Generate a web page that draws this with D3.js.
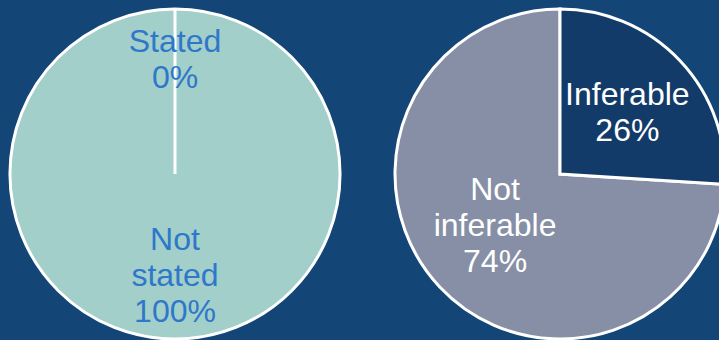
<!DOCTYPE html>
<html><head><meta charset="utf-8">
<script src="https://cdn.jsdelivr.net/npm/d3@7"></script>
<style>html,body{margin:0;padding:0;background:#134577;overflow:hidden}</style>
</head><body>
<svg id="c" width="719" height="340"></svg>
<script>
// Data
const leftCategories = ["Stated", "Not stated"];
const leftValues = [0, 100];
const leftLabels = [["Stated", "0%"], ["Not", "stated", "100%"]];
const rightCategories = ["Inferable", "Not inferable"];
const rightValues = [26, 74];
const rightLabels = [["Inferable", "26%"], ["Not", "inferable", "74%"]];

const svg = d3.select("#c");
const R = 165;
const lineH = 36;

const charts = [
  {cx: 175, cy: 174, cats: leftCategories, vals: leftValues, labels: leftLabels,
   colors: ["#a2cfca", "#a2cfca"], text: "#2f77c9", lf: [[0.70, 0.70], [0.61, 0.61]]},
  {cx: 560, cy: 174, cats: rightCategories, vals: rightValues, labels: rightLabels,
   colors: ["#133b69", "#868fa5"], text: "#ffffff", lf: [[0.56, 0.55], [0.54, 0.45]]}
];

const pie = d3.pie().sort(null).value(d => d);
const arc = d3.arc().innerRadius(0).outerRadius(R);

charts.forEach(ch => {
  const g = svg.append("g").attr("transform", `translate(${ch.cx},${ch.cy})`);
  const arcs = pie(ch.vals);
  g.selectAll("path").data(arcs.slice().reverse()).join("path")
    .attr("d", arc)
    .attr("fill", d => ch.colors[d.index])
    .attr("stroke", "#ffffff")
    .attr("stroke-width", 3)
    .attr("stroke-linejoin", "miter");
  arcs.forEach((d, i) => {
    const a = (d.startAngle + d.endAngle) / 2;
    const x = Math.sin(a) * R * ch.lf[i][0];
    const y = -Math.cos(a) * R * ch.lf[i][1];
    const lines = ch.labels[i];
    const t = g.append("text")
      .attr("text-anchor", "middle")
      .attr("font-family", "Liberation Sans, Arial, sans-serif")
      .attr("font-size", 32)
      .attr("fill", ch.text);
    const n = lines.length;
    lines.forEach((s, k) => {
      t.append("tspan").attr("x", x)
        .attr("y", y + (k - (n - 1) / 2) * lineH + 11)
        .text(s);
    });
  });
});
</script>
</body></html>
